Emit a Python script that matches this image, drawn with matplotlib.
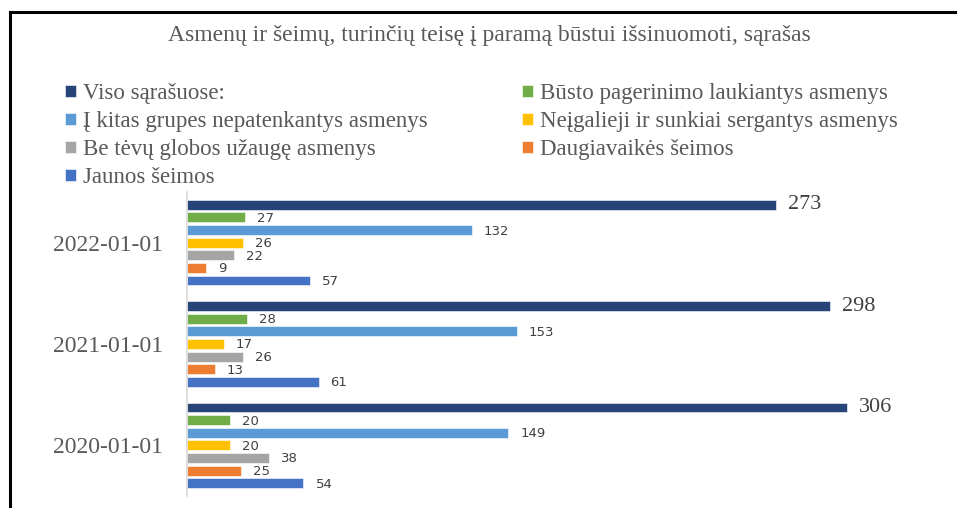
import numpy as np
import matplotlib
matplotlib.use("Agg")
import matplotlib.pyplot as plt
from matplotlib.lines import Line2D

#--------------------DATA------------------------#
dates = ["2020-01-01", "2021-01-01", "2022-01-01"]

series_names = [
    "Viso sąrašuose:",
    "Būsto pagerinimo laukiantys asmenys",
    "Į kitas grupes nepatenkantys asmenys",
    "Neįgalieji ir sunkiai sergantys asmenys",
    "Be tėvų globos užaugę asmenys",
    "Daugiavaikės šeimos",
    "Jaunos šeimos",
]

viso = [306, 298, 273]
busto = [20, 28, 27]
kitas = [149, 153, 132]
neigalieji = [20, 17, 26]
be_tevu = [38, 26, 22]
daugiavaikes = [25, 13, 9]
jaunos = [54, 61, 57]

colors = ["#264478", "#70AD47", "#5B9BD5", "#FFC000", "#A5A5A5", "#ED7D31", "#4472C4"]
#--------------------END_OF_DATA------------------------#

all_series = [viso, busto, kitas, neigalieji, be_tevu, daugiavaikes, jaunos]

fig = plt.figure(figsize=(9.57, 5.08), dpi=100)
ax = fig.add_axes([187/957, 1 - 496/508, (942-187)/957, (496-192)/508])

y = np.arange(len(dates))
step = 0.1245
bar_h = 0.098

handles = []
for i, (name, vals, c) in enumerate(zip(series_names, all_series, colors)):
    pos = y + (3 - i) * step
    b = ax.barh(pos, vals, height=bar_h, color=c, edgecolor='white', linewidth=0.4, label=name)
    handles.append(b)
    for p, v in zip(pos, vals):
        if i == 0:
            ax.annotate(str(v), (v, p), xytext=(12, 0), textcoords='offset pixels',
                        va='center', ha='left', fontsize=16, color='#404040',
                        family='Liberation Serif')
        else:
            ax.annotate(str(v), (v, p), xytext=(12, -1), textcoords='offset pixels',
                        va='center', ha='left', fontsize=9.5, color='#404040',
                        family='DejaVu Sans')

ax.set_xlim(0, 350)
ax.set_ylim(-0.5, 2.5)
ax.set_yticks(y)
ax.set_yticklabels(dates, family='Liberation Serif', fontsize=17, color='#595959')
ax.tick_params(axis='y', length=0, pad=17)
ax.set_xticks([])
for s in ['top', 'right', 'bottom']:
    ax.spines[s].set_visible(False)
ax.spines['left'].set_color('#D9D9D9')
ax.spines['left'].set_linewidth(1.2)

# title
fig.text(489/957, 1 - 36/508, "Asmenų ir šeimų, turinčių teisę į paramą būstui išsinuomoti, sąrašas",
         ha='center', va='center', fontsize=17, color='#595959', family='Liberation Serif')

# legend in two columns, row-major order like the original
leg_kw = dict(frameon=False, prop={'family': 'Liberation Serif', 'size': 16.5},
              labelcolor='#595959', handlelength=0.5, handleheight=0.4,
              handletextpad=0.3, labelspacing=0.31, borderpad=0, borderaxespad=0)
col1 = [0, 2, 4, 6]
col2 = [1, 3, 5]
leg1 = fig.legend([handles[k] for k in col1], [series_names[k] for k in col1],
                  loc='upper left', bbox_to_anchor=(65/957, 1 - 83/508), **leg_kw)
fig.legend([handles[k] for k in col2], [series_names[k] for k in col2],
           loc='upper left', bbox_to_anchor=(522/957, 1 - 83/508), **leg_kw)

# black frame lines (top and left)
fig.add_artist(Line2D([10/957, 1.0], [1 - 11.5/508, 1 - 11.5/508], color='black', linewidth=2.2,
                      transform=fig.transFigure))
fig.add_artist(Line2D([10/957, 10/957], [1 - 11.5/508, 0], color='black', linewidth=2.2,
                      transform=fig.transFigure))

fig.savefig("out.png", dpi=100)
